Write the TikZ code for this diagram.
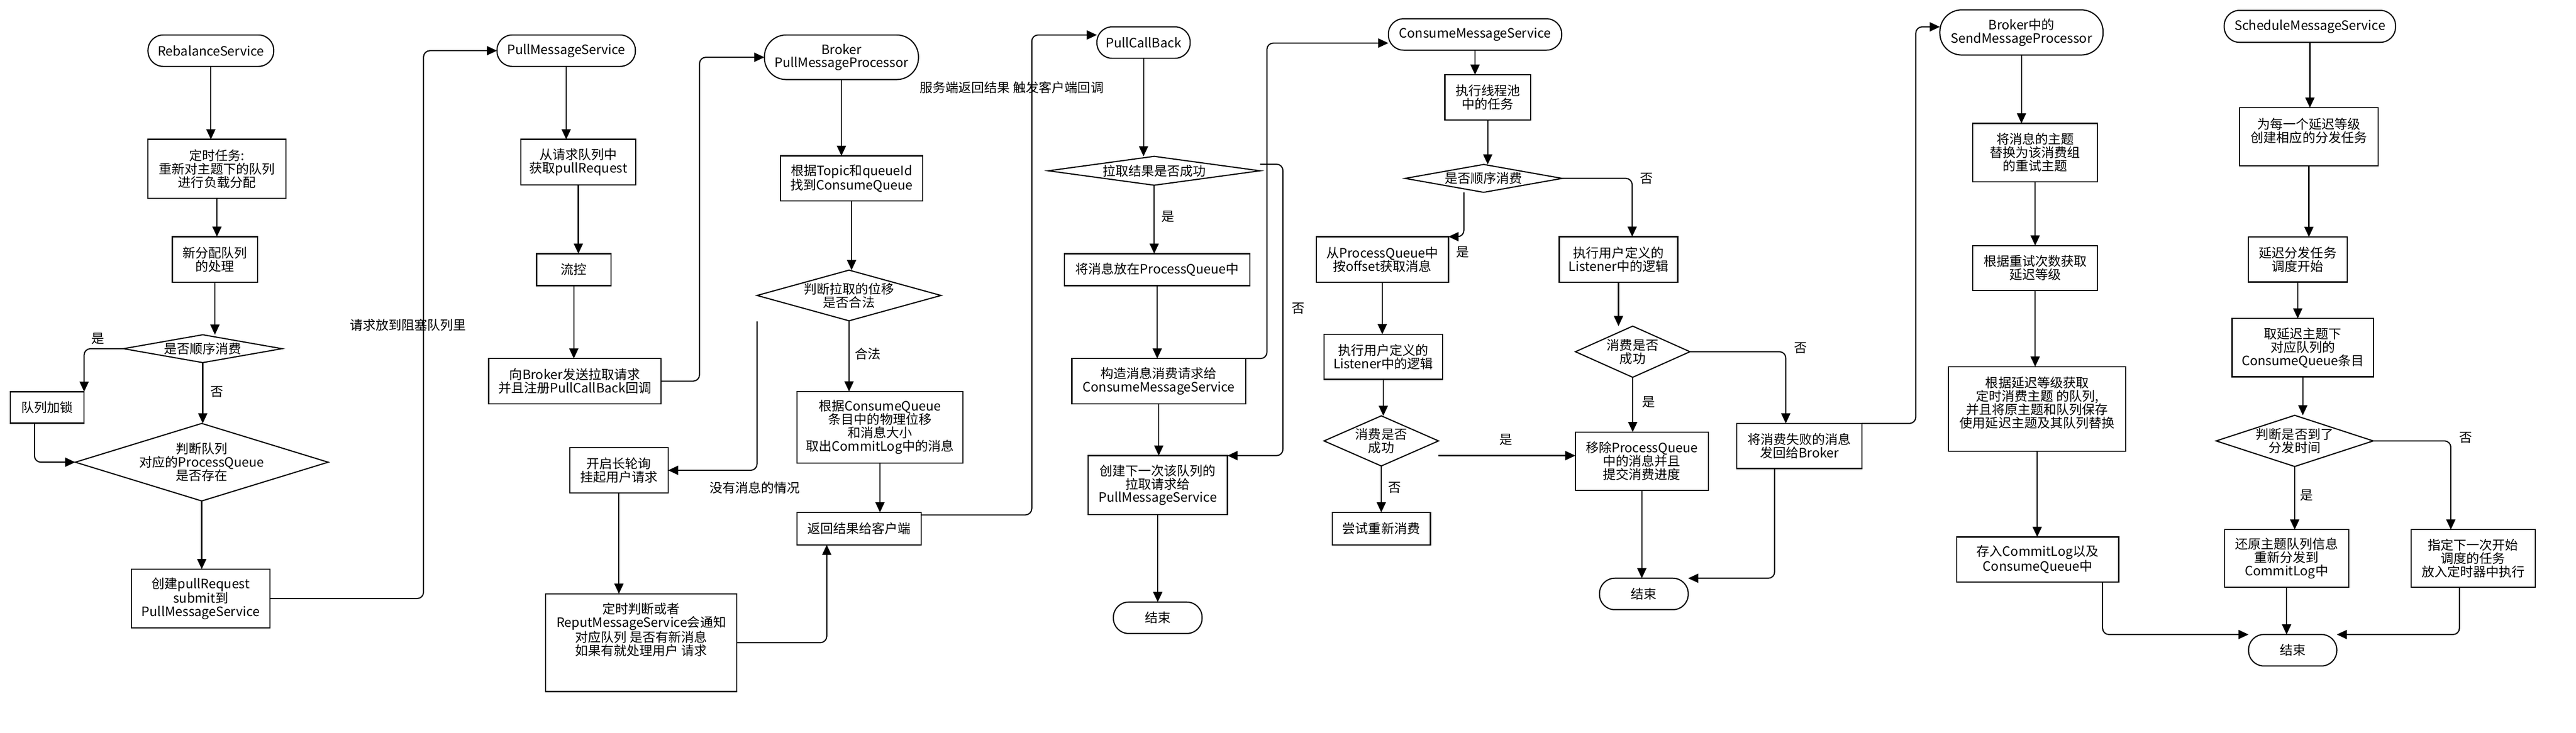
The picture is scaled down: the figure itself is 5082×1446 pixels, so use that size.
\documentclass[tikz,border=0pt]{standalone}
\usepackage{fontspec}
\setmainfont{Noto Sans CJK SC}
\usetikzlibrary{shapes.geometric}
\usetikzlibrary{arrows.meta}

\begin{document}
\begin{tikzpicture}[x=0.02cm,y=-0.02cm,inner sep=0pt,outer sep=0pt,line width=.045cm,
font=\fontsize{14.5}{15}\selectfont,
term/.style={draw,rectangle,rounded corners=.6cm,align=center,minimum height=1.24cm},
box/.style={draw,rectangle,align=center},
dec/.style={draw,diamond,align=center},
arr/.style={rounded corners=.25cm,-{Triangle[length=.4cm,width=.36cm]}}]

\useasboundingbox (0,0) rectangle (5082,1446);

\draw (416,100) node[term,minimum width=4.96cm] (rb) {RebalanceService};
\draw (428,333) node[box,minimum width=5.44cm,minimum height=2.32cm] (t1) {定时任务:\\重新对主题下的队列\\进行负载分配};
\draw (424,512) node[box,minimum width=3.36cm,minimum height=1.8cm] (t2) {新分配队列\\的处理};
\draw (400,688) node[dec,aspect=5.7,minimum width=6.26cm,minimum height=1.1cm] (d1) {是否顺序消费};
\draw (93,804) node[box,minimum width=2.92cm,minimum height=1.24cm] (lock) {队列加锁};
\draw (398,912) node[dec,aspect=3.26,minimum width=9.98cm,minimum height=3.06cm] (d2) {判断队列\\对应的ProcessQueue\\是否存在};
\draw (396,1181) node[box,minimum width=5.48cm,minimum height=2.32cm] (t3) {创建pullRequest\\submit到\\PullMessageService};

\draw (1117,100) node[term,minimum width=5.46cm] (pms) {PullMessageService};
\draw (1141,320) node[box,minimum width=4.54cm,minimum height=1.8cm] (p1) {从请求队列中\\获取pullRequest};
\draw (1132,532) node[box,minimum width=2.94cm,minimum height=1.26cm] (p2) {流控};
\draw (1134,752) node[box,minimum width=6.8cm,minimum height=1.78cm] (p3) {向Broker发送拉取请求\\并且注册PullCallBack回调};
\draw (1221,928) node[box,minimum width=3.88cm,minimum height=1.8cm] (lp) {开启长轮询\\挂起用户请求};
\draw (1265,1268) node[box,minimum width=7.54cm,minimum height=3.86cm] (rp) {定时判断或者\\ReputMessageService会通知\\对应队列 是否有新消息\\如果有就处理用户 请求\\~\\~};

\draw (1660,113) node[term,rounded corners=.86cm,minimum width=6.08cm,minimum height=1.76cm] (bp) {Broker\\PullMessageProcessor};
\draw (1680,352) node[box,minimum width=5.62cm,minimum height=1.78cm] (b1) {根据Topic和queueId\\找到ConsumeQueue};
\draw (1675,583) node[dec,aspect=3.63,minimum width=7.26cm,minimum height=2cm] (chk) {判断拉取的位移\\是否合法};
\draw (1736,843) node[box,minimum width=6.54cm,minimum height=2.82cm] (b2) {根据ConsumeQueue\\条目中的物理位移\\和消息大小\\取出CommitLog中的消息};
\draw (1695,1043) node[box,minimum width=4.9cm,minimum height=1.28cm] (ret) {返回结果给客户端};

\draw (2256,84) node[term,minimum width=3.68cm] (pcb) {PullCallBack};
\draw (2277,337) node[dec,aspect=7.3,minimum width=8.36cm,minimum height=1.14cm] (c0) {拉取结果是否成功};
\draw (2283,532) node[box,minimum width=7.32cm,minimum height=1.26cm] (c1) {将消息放在ProcessQueue中};
\draw (2286,752) node[box,minimum width=6.86cm,minimum height=1.78cm] (c2) {构造消息消费请求给\\ConsumeMessageService};
\draw (2284,957) node[box,minimum width=5.5cm,minimum height=2.32cm] (c3) {创建下一次该队列的\\拉取请求给\\PullMessageService};
\draw (2284,1219) node[term,minimum width=3.5cm] (endA) {结束};

\draw (2910,68) node[term,minimum width=6.84cm] (cms) {ConsumeMessageService};
\draw (2935,192) node[box,minimum width=3.38cm,minimum height=1.78cm] (s1) {执行线程池\\中的任务};
\draw (2927,352) node[dec,aspect=5.6,minimum width=6.2cm,minimum height=1.1cm] (sq) {是否顺序消费};
\draw (2727,512) node[box,minimum width=5.22cm,minimum height=1.8cm] (a1) {从ProcessQueue中\\按offset获取消息};
\draw (2729,704) node[box,minimum width=4.68cm,minimum height=1.78cm] (a2) {执行用户定义的\\Listener中的逻辑};
\draw (2725,870) node[dec,aspect=2.28,minimum width=4.52cm,minimum height=1.98cm] (ad) {消费是否\\成功};
\draw (2725,1043) node[box,minimum width=3.88cm,minimum height=1.28cm] (a3) {尝试重新消费};
\draw (3193,512) node[box,minimum width=4.68cm,minimum height=1.8cm] (b1r) {执行用户定义的\\Listener中的逻辑};
\draw (3221,694) node[dec,aspect=2.24,minimum width=4.52cm,minimum height=2.02cm] (bd) {消费是否\\成功};
\draw (3239,910) node[box,minimum width=5.24cm,minimum height=2.3cm] (rm) {移除ProcessQueue\\中的消息并且\\提交消费进度};
\draw (3243,1172) node[term,minimum width=3.5cm] (endB) {结束};
\draw (3550,880) node[box,minimum width=4.94cm,minimum height=1.78cm] (fb) {将消费失败的消息\\发回给Broker};

\draw (3988,64) node[term,rounded corners=.86cm,minimum width=6.44cm,minimum height=1.78cm] (smp) {Broker中的\\SendMessageProcessor};
\draw (4015,301) node[box,minimum width=4.92cm,minimum height=2.3cm] (r1) {将消息的主题\\替换为该消费组\\的重试主题};
\draw (4015,529) node[box,minimum width=4.92cm,minimum height=1.78cm] (r2) {根据重试次数获取\\延迟等级};
\draw (4019,807) node[box,minimum width=7cm,minimum height=3.34cm] (r3) {根据延迟等级获取\\定时消费主题 的队列,\\并且将原主题和队列保存\\使用延迟主题及其队列替换\\~};
\draw (4020,1104) node[box,minimum width=6.4cm,minimum height=1.78cm] (r4) {存入CommitLog以及\\ConsumeQueue中};

\draw (4557,52) node[term,minimum width=6.76cm,minimum height=1.26cm] (sch) {ScheduleMessageService};
\draw (4555,270) node[box,minimum width=5.46cm,minimum height=2.3cm] (q1) {为每一个延迟等级\\创建相应的分发任务\\~};
\draw (4533,512) node[box,minimum width=3.9cm,minimum height=1.78cm] (q2) {延迟分发任务\\调度开始};
\draw (4543,686) node[box,minimum width=5.58cm,minimum height=2.3cm] (q3) {取延迟主题下\\对应队列的\\ConsumeQueue条目};
\draw (4527,870) node[dec,aspect=3.07,minimum width=6.2cm,minimum height=2.02cm] (qd) {判断是否到了\\分发时间};
\draw (4511,1102) node[box,minimum width=4.9cm,minimum height=2.28cm] (q4) {还原主题队列信息\\重新分发到\\CommitLog中};
\draw (4879,1102) node[box,minimum width=4.9cm,minimum height=2.28cm] (q5) {指定下一次开始\\调度的任务\\放入定时器中执行};
\draw (4523,1283) node[term,minimum width=3.48cm] (endC) {结束};

\node (yes1) at (193,668) {是};
\node (no1) at (428,773) {否};
\node (queued) at (805,641) {请求放到阻塞队列里};
\node (legal) at (1712,698) {合法};
\node (nomsg) at (1489,962) {没有消息的情况};
\node (back) at (1996,173) {服务端返回结果 触发客户端回调};
\node (yes2) at (2304,427) {是};
\node (no2) at (2561,608) {否};
\node (yes3) at (2886,498) {是};
\node (no3) at (3248,352) {否};
\node (no4) at (2751,962) {否};
\node (yes4) at (2971,867) {是};
\node (yes5) at (3252,793) {是};
\node (no5) at (3552,687) {否};
\node (yes6) at (4550,977) {是};
\node (no6) at (4864,864) {否};

\draw[arr] (rb) -- (rb |- t1.north);
\draw[arr] (t1) -- (t1 |- t2.north);
\draw[arr] (t2) -- (t2 |- d1.north);
\draw[arr] (d1.west) -| (lock.north east);
\draw[arr] (d1) -- (d1 |- d2.north);
\draw[arr] ([xshift=-.5cm]lock.south) |- (d2.west);
\draw[arr] (d2) -- (d2 |- t3.north);
\draw[arr] (t3.east) -| ([xshift=-2.9cm]pms.west) -- (pms.west);

\draw[arr] (pms) -- (pms |- p1.north);
\draw[arr] (p1) -- (p1 |- p2.north);
\draw[arr] (p2) -- (p2 |- p3.north);
\draw[arr] (p3.east) -| ([xshift=-2.56cm]bp.west) -- (bp.west);
\draw[arr] (bp) -- (bp |- b1.north);
\draw[arr] (b1) -- (b1 |- chk.north);
\draw[arr] (chk) -- (chk |- b2.north);
\draw[arr] ([yshift=-1.02cm]chk.west) |- (lp.east);
\draw[arr] (b2) -- (b2 |- ret.north);
\draw[arr] (lp) -- (lp |- rp.north);
\draw[arr] (rp.east) -| ([xshift=-1.28cm]ret.south);
\draw[arr] ([yshift=-.1cm]ret.north east) -- ++(218,0) |- ([yshift=.3cm]pcb.west);

\draw[arr] (pcb) -- (pcb |- c0.north);
\draw[arr] (c0) -- (c0 |- c1.north);
\draw[arr] (c1) -- (c1 |- c2.north);
\draw[arr] (c2) -- (c2 |- c3.north);
\draw[arr] (c3) -- (c3 |- endA.north);
\draw[arr] ([yshift=.26cm]c0.east) -- ++(45,0) |- (c3.north east);
\draw[arr] (c2.north east) -- ++(42,0) |- ([yshift=-.34cm]cms.west);

\draw[arr] (cms) -- (cms |- s1.north);
\draw[arr] (s1) -- (s1 |- sq.north);
\draw[arr] ([xshift=-.78cm]sq.south) |- (a1.north east);
\draw[arr] (sq.east) -| ([xshift=.54cm]b1r.north);
\draw[arr] (a1) -- (a1 |- a2.north);
\draw[arr] (a2) -- (a2 |- ad.north);
\draw[arr] (ad) -- (ad |- a3.north);
\coordinate (adr) at ([yshift=-.58cm]ad.east);
\draw[arr] (adr) -- (adr -| rm.west);
\draw[arr] (b1r) -- (b1r |- bd.north);
\draw[arr] (bd) -- (bd |- rm.north);
\draw[arr] (bd.east) -| ([xshift=-.54cm]fb.north);
\draw[arr] (rm) -- (rm |- endB.north);
\draw[arr] ([xshift=-.98cm]fb.south) |- (endB.east |- endB.north);
\draw[arr] (fb.north east) -- ++(106,0) |- ([yshift=.22cm]smp.west);

\draw[arr] (smp) -- (smp |- r1.north);
\draw[arr] (r1) -- (r1 |- r2.north);
\draw[arr] (r2) -- (r2 |- r3.north);
\draw[arr] (r3) -- (r3 |- r4.north);
\draw[arr] ([xshift=2.56cm]r4.south) |- (endC.west |- endC.north);

\draw[arr] (sch) -- (sch |- q1.north);
\draw[arr] (q1) -- (q1 |- q2.north);
\draw[arr] (q2) -- (q2 |- q3.north);
\draw[arr] (q3) -- (q3 |- qd.north);
\draw[arr] (qd) -- (qd |- q4.north);
\draw[arr] (qd.east) -| ([xshift=-.88cm]q5.north);
\draw[arr] (q4) -- (q4 |- endC.north);
\draw[arr] ([xshift=-.54cm]q5.south) |- (endC.east |- endC.north);

\end{tikzpicture}
\end{document}
